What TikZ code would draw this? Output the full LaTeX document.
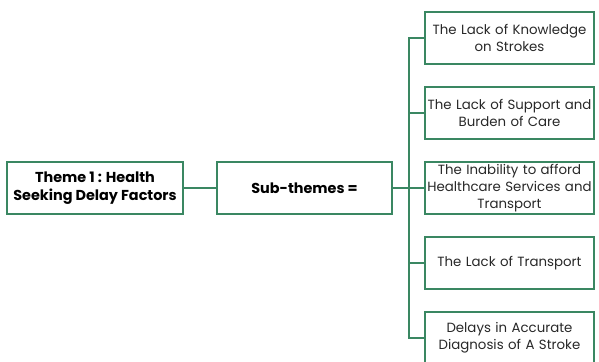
\documentclass[tikz,border=0pt]{standalone}
\usepackage{fontspec}
\setmainfont{Poppins}
\definecolor{themegreen}{RGB}{58,135,98}
\definecolor{subtext}{RGB}{40,40,40}
\tikzset{
  box/.style={draw=themegreen, line width=1.5pt, fill=white, align=center, inner sep=0pt},
  themebox/.style={box, minimum width=132pt, minimum height=39pt, font=\fontsize{10.8}{13.5}\selectfont\bfseries},
  subbox/.style={box, minimum width=127pt, minimum height=39pt, text width=127pt, font=\fontsize{10}{12.6}\selectfont, text=subtext},
  link/.style={draw=themegreen, line width=1.5pt}
}

\begin{document}
\begin{tikzpicture}[x=0.75pt,y=0.75pt,yscale=-1,xscale=1]
\useasboundingbox (0,0) rectangle (599,361);

% Theme and sub-themes
\node [themebox] (theme) at (95,188) {Theme 1 : Health\\Seeking Delay Factors};
\node [themebox, minimum width=131pt] (sub) at (304.5,188) {Sub-themes =};

% Sub-theme boxes
\node [subbox] (s1) at (509.5,38) {The Lack of Knowledge\\on Strokes};
\node [subbox] (s2) at (509.5,113) {The Lack of Support and\\Burden of Care};
\node [subbox] (s3) at (509.5,188) {The Inability to afford\\Healthcare Services and\\Transport};
\node [subbox] (s4) at (509.5,263) {The Lack of Transport};
\node [subbox] (s5) at (509.5,338) {Delays in Accurate\\Diagnosis of A Stroke};

% Connectors
\coordinate (trunk) at (409,188);
\draw [link] (theme.east) -- (sub.west);
\draw [link] (sub.east) -- (trunk);
\draw [link, line cap=rect] (trunk |- s1.west) -- (trunk |- s5.west);
\foreach \i in {1,...,5}
  \draw [link] (trunk |- s\i.west) -- (s\i.west);

\end{tikzpicture}
\end{document}
